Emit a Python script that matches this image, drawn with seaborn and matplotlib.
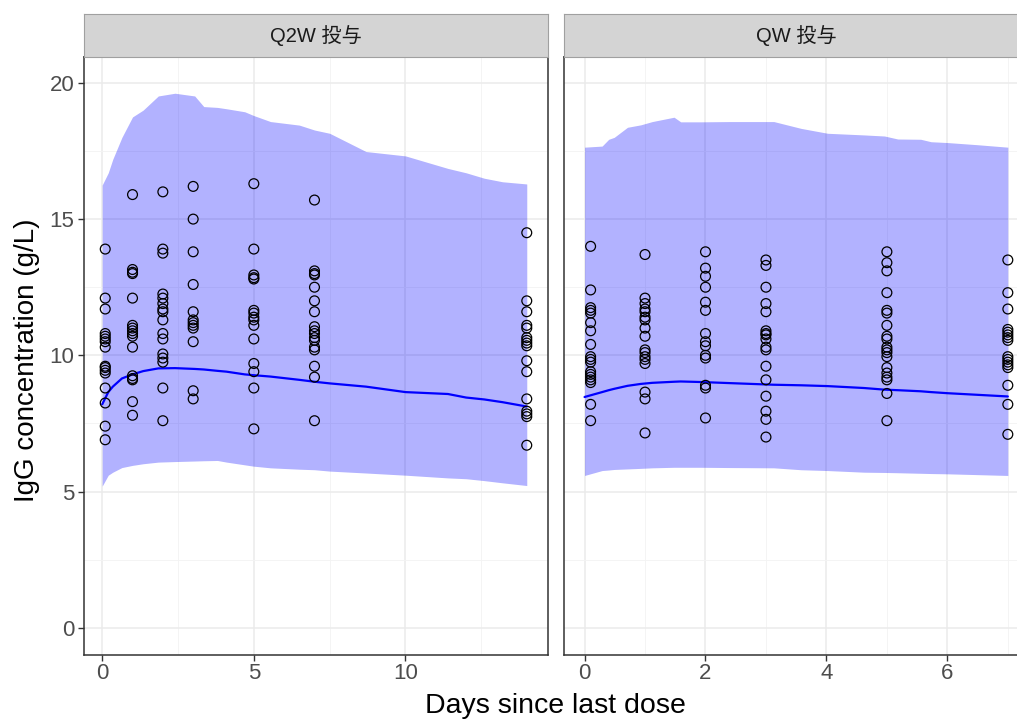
import numpy as np
import pandas as pd
import matplotlib
matplotlib.use("Agg")
import matplotlib.pyplot as plt
import seaborn as sns

sns.set_theme(style="white")
plt.rcParams['font.family'] = ['Liberation Sans', 'Noto Sans CJK JP', 'DejaVu Sans']

# ---------------- data ----------------
panels = ["Q2W 投与", "QW 投与"]

q2w_obs_day = [0.1, 1, 2, 3, 5, 7, 14]
q2w_obs = [
    [13.9, 12.1, 11.7, 10.8, 10.7, 10.6, 10.5, 10.3, 9.6, 9.55, 9.45, 9.35, 8.8, 8.25, 7.4, 6.9],
    [15.9, 13.15, 13.05, 13.0, 12.1, 11.1, 11.0, 10.9, 10.8, 10.7, 10.3, 9.25, 9.15, 9.1, 8.3, 7.8],
    [16.0, 13.9, 13.75, 12.25, 12.1, 11.9, 11.7, 11.6, 11.3, 10.8, 10.6, 10.05, 9.9, 9.75, 8.8, 7.6],
    [16.2, 15.0, 13.8, 12.6, 11.6, 11.3, 11.2, 11.1, 11.0, 10.5, 8.7, 8.4],
    [16.3, 13.9, 12.95, 12.85, 12.8, 11.65, 11.55, 11.4, 11.3, 11.1, 10.6, 9.7, 9.4, 8.8, 7.3],
    [15.7, 13.1, 13.0, 12.95, 12.5, 12.0, 11.6, 11.05, 10.9, 10.8, 10.65, 10.55, 10.3, 10.2, 9.6, 9.2, 7.6],
    [14.5, 12.0, 11.6, 11.1, 11.0, 10.65, 10.55, 10.45, 10.35, 9.8, 9.4, 8.4, 7.95, 7.85, 7.75, 6.7],
]

qw_obs_day = [0.1, 1, 2, 3, 5, 7]
qw_obs = [
    [14.0, 12.4, 11.75, 11.65, 11.55, 11.2, 10.9, 10.4, 9.95, 9.85, 9.75, 9.4, 9.3, 9.2, 9.1, 9.0, 8.2, 7.6],
    [13.7, 12.1, 11.9, 11.7, 11.6, 11.4, 11.3, 11.0, 10.7, 10.2, 10.1, 9.95, 9.85, 9.7, 8.65, 8.4, 7.15],
    [13.8, 13.2, 12.9, 12.5, 11.95, 11.65, 10.8, 10.5, 10.35, 10.0, 9.9, 8.9, 8.8, 7.7],
    [13.5, 13.3, 12.5, 11.9, 11.6, 10.9, 10.8, 10.75, 10.6, 10.3, 10.2, 9.6, 9.1, 8.5, 7.95, 7.65, 7.0],
    [13.8, 13.4, 13.1, 12.3, 11.65, 11.55, 11.1, 10.7, 10.6, 10.3, 10.2, 10.1, 9.95, 9.55, 9.35, 9.2, 9.1, 8.6, 7.6],
    [13.5, 12.3, 11.7, 10.95, 10.85, 10.75, 10.65, 10.55, 9.95, 9.85, 9.75, 9.65, 9.55, 8.9, 8.2, 7.1],
]

q2w_sim_day = [0, 0.2, 0.35, 0.65, 1.0, 1.35, 1.85, 2.4, 3.05, 3.35, 3.8, 4.1, 4.7, 5.0, 5.55, 6.5, 7.0, 7.5, 8.7, 10.0, 11.4, 12.0, 12.6, 13.2, 14.0]
q2w_median = [8.2, 8.65, 8.85, 9.15, 9.3, 9.42, 9.52, 9.53, 9.5, 9.48, 9.43, 9.4, 9.3, 9.27, 9.22, 9.1, 9.03, 8.97, 8.85, 8.65, 8.58, 8.45, 8.38, 8.28, 8.12]
q2w_upper = [16.25, 16.7, 17.2, 18.0, 18.75, 19.0, 19.52, 19.62, 19.52, 19.13, 19.1, 19.05, 18.94, 18.8, 18.58, 18.45, 18.27, 18.15, 17.48, 17.32, 16.86, 16.7, 16.5, 16.37, 16.29]
q2w_lower = [5.2, 5.6, 5.71, 5.88, 5.96, 6.02, 6.08, 6.1, 6.12, 6.13, 6.14, 6.08, 5.98, 5.93, 5.87, 5.82, 5.8, 5.75, 5.68, 5.6, 5.5, 5.47, 5.4, 5.32, 5.22]

qw_sim_day = [0, 0.29, 0.4, 0.49, 0.71, 0.93, 1.12, 1.48, 1.59, 1.92, 2.4, 3.13, 3.58, 4.02, 4.62, 4.96, 5.18, 5.56, 5.73, 6.0, 6.5, 7.0]
qw_median = [8.47, 8.65, 8.72, 8.77, 8.88, 8.95, 8.99, 9.03, 9.04, 9.02, 8.98, 8.92, 8.9, 8.87, 8.8, 8.74, 8.72, 8.68, 8.65, 8.61, 8.55, 8.49]
qw_upper = [17.64, 17.68, 17.93, 18.0, 18.37, 18.46, 18.58, 18.74, 18.57, 18.57, 18.58, 18.58, 18.33, 18.15, 18.09, 18.05, 17.94, 17.93, 17.84, 17.81, 17.73, 17.64]
qw_lower = [5.59, 5.77, 5.79, 5.81, 5.83, 5.85, 5.87, 5.89, 5.89, 5.89, 5.88, 5.87, 5.8, 5.77, 5.71, 5.7, 5.69, 5.67, 5.66, 5.65, 5.62, 5.59]

x_ticks = [[0, 5, 10], [0, 2, 4, 6]]
x_minor = [[2.5, 7.5, 12.5], [1, 3, 5, 7]]
y_ticks = [0, 5, 10, 15, 20]
y_minor = [2.5, 7.5, 12.5, 17.5]
x_lims = [(-0.6, 14.7), (-0.34, 7.35)]
y_lim = (-1.0, 20.95)


def long_obs(days, vals):
    rows = []
    for d, vs in zip(days, vals):
        for v in vs:
            rows.append((d, v))
    return pd.DataFrame(rows, columns=["day", "conc"])


obs_frames = [long_obs(q2w_obs_day, q2w_obs), long_obs(qw_obs_day, qw_obs)]
sim_frames = [
    pd.DataFrame({"day": q2w_sim_day, "median": q2w_median, "lo": q2w_lower, "hi": q2w_upper}),
    pd.DataFrame({"day": qw_sim_day, "median": qw_median, "lo": qw_lower, "hi": qw_upper}),
]

# ---------------- figure ----------------
W, H = 1017, 720
fig = plt.figure(figsize=(W / 100, H / 100), dpi=100)
fig.patch.set_facecolor("white")

panel_px = [(84, 548), (564, 1029)]
top_px, bot_px = 57, 655
strip_top = 14

text_col = "#4D4D4D"
for i, (x0, x1) in enumerate(panel_px):
    ax = fig.add_axes([x0 / W, (H - bot_px) / H, (x1 - x0) / W, (bot_px - top_px) / H])
    ax.set_facecolor("white")
    obs, sim = obs_frames[i], sim_frames[i]

    # grid
    for xv in x_ticks[i]:
        ax.axvline(xv, color="#EBEBEB", lw=1.1, zorder=0)
    for xv in x_minor[i]:
        ax.axvline(xv, color="#F3F3F3", lw=0.6, zorder=0)
    for yv in y_ticks:
        ax.axhline(yv, color="#EBEBEB", lw=1.1, zorder=0)
    for yv in y_minor:
        ax.axhline(yv, color="#F3F3F3", lw=0.6, zorder=0)

    ax.fill_between(sim["day"], sim["lo"], sim["hi"], color="blue", alpha=0.3, lw=0, zorder=1)
    sns.lineplot(data=sim, x="day", y="median", ax=ax, color="blue", lw=1.6, zorder=2,
                 estimator=None, sort=False)
    sns.scatterplot(data=obs, x="day", y="conc", ax=ax, marker="o", s=50,
                    facecolor="none", edgecolor="black", linewidth=0.9, zorder=3)

    ax.set_xlim(*x_lims[i])
    ax.set_ylim(*y_lim)
    ax.set_xticks(x_ticks[i])
    ax.set_yticks(y_ticks)
    ax.set_xlabel("")
    ax.set_ylabel("")
    ax.tick_params(axis="x", length=4, width=1, color="#333333", labelsize=16,
                   labelcolor=text_col, pad=2, bottom=True)
    if i == 0:
        ax.tick_params(axis="y", length=4, width=1, color="#333333", labelsize=16,
                       labelcolor=text_col, pad=3, left=True)
    else:
        ax.tick_params(axis="y", left=False, labelleft=False)
    for sp in ax.spines.values():
        sp.set_color("#333333")
        sp.set_linewidth(1.1)
        sp.set_visible(True)

    # strip
    sax = fig.add_axes([x0 / W, (H - top_px) / H, (x1 - x0) / W, (top_px - strip_top) / H])
    sax.set_facecolor("#D4D4D4")
    sax.set_xticks([])
    sax.set_yticks([])
    for sp in sax.spines.values():
        sp.set_color("#A0A0A0")
        sp.set_linewidth(0.8)
        sp.set_visible(True)
    sax.text(0.5, 0.5, panels[i], ha="center", va="center", fontsize=14.5,
             color="#1A1A1A", transform=sax.transAxes)

fig.text(555 / W, 1 - 706 / H, "Days since last dose", ha="center", va="center",
         fontsize=20.5, color="black")
fig.text(27 / W, 1 - 360 / H, "IgG concentration (g/L)", ha="center", va="center",
         rotation=90, fontsize=20, color="black")

fig.savefig("out.png", dpi=100, facecolor="white")
